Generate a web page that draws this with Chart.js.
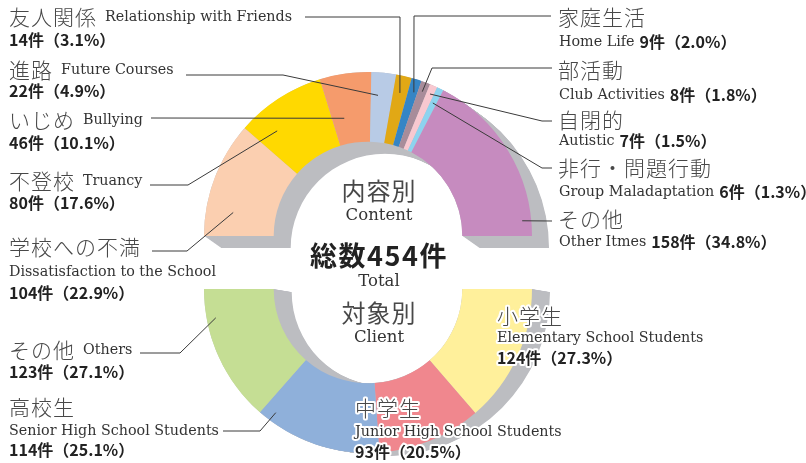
<!DOCTYPE html>
<html>
<head>
<meta charset="utf-8">
<script src="https://cdn.jsdelivr.net/npm/chart.js@4.4.0/dist/chart.umd.min.js"></script>
<style>
  html, body { margin: 0; padding: 0; background: #fff; }
  #wrap { position: relative; width: 806px; height: 463px; }
  #wrap canvas { position: absolute; left: 0; top: 0; }
</style>
</head>
<body>
<div id="wrap">
  <canvas id="contentChart" width="806" height="463"></canvas>
  <canvas id="clientChart" width="806" height="463"></canvas>
</div>
<script>
// 内容別 (top half, clockwise from the left)
var contentJa = ['学校への不満', '不登校', 'いじめ', '進路', '友人関係', '家庭生活', '部活動', '自閉的', '非行・問題行動', 'その他'];
var contentEn = ['Dissatisfaction to the School', 'Truancy', 'Bullying', 'Future Courses', 'Relationship with Friends', 'Home Life', 'Club Activities', 'Autistic', 'Group Maladaptation', 'Other Itmes'];
var contentValues = [104, 80, 46, 22, 14, 9, 8, 7, 6, 158];
var contentPct = [22.9, 17.6, 10.1, 4.9, 3.1, 2.0, 1.8, 1.5, 1.3, 34.8];
var contentColors = ['#fbcfb0', '#ffd900', '#f59b6c', '#b8cbe6', '#e1a815', '#3585c5', '#a88c9a', '#f8c8d0', '#8dd3ef', '#c68bbf'];

// 対象別 (bottom half, clockwise from the right)
var clientJa = ['小学生', '中学生', '高校生', 'その他'];
var clientEn = ['Elementary School Students', 'Junior High School Students', 'Senior High School Students', 'Others'];
var clientValues = [124, 93, 114, 123];
var clientPct = [27.3, 20.5, 25.1, 27.1];
var clientColors = ['#fff09b', '#f0878e', '#8fb0da', '#c5de94'];

var totalCount = 454;

var JA = "'Noto Sans CJK JP'";
var EN = "'DejaVu Serif'";
var JA_FONT = '300 21px ' + JA;
var EN_FONT = '14.3px ' + EN;
var NUM_FONT = 'bold 16px ' + JA;
var TXT = '#333';
var JA_COL = '#484848';

// label layout: text position, rows, leader line elbows, anchor inside the slice
var contentLayout = [
  { type: 'stack',  x: 9,   rows: [247, 272, 293], line: [[152, 251], [187, 251]], f: 0.24, rf: 0.61 },
  { type: 'inline', x: 9,   rows: [181, 203], line: [[150, 185], [188, 185]], f: 0.25, rf: 0.64 },
  { type: 'inline', x: 9,   rows: [120, 143], line: [[151, 118]], f: 0.31, rf: 0.37 },
  { type: 'inline', x: 9,   rows: [70, 91],   line: [[186, 75], [283, 75]], f: 0.33, rf: 0.67 },
  { type: 'inline', x: 9,   rows: [17, 40],   line: [[305, 17], [400, 17]], f: 0.48, rf: 0.75 },
  { type: 'right',  x: 558, rows: [17, 42],   line: [[551, 16], [414, 16]], f: 0.63, rf: 0.81 },
  { type: 'right',  x: 558, rows: [70, 95],   line: [[552, 68], [432, 68]], f: 0.5, rf: 0.86 },
  { type: 'right',  x: 558, rows: [120, 141], line: [[552, 121], [542, 121]], f: 0.5, rf: 0.87 },
  { type: 'right',  x: 558, rows: [168, 192], line: [[552, 168], [542, 168]], f: 0.42, rf: 0.77 },
  { type: 'right',  x: 558, rows: [219, 242], line: [[552, 221]], f: 0.91, rf: 0.87 }
];
var clientLayout = [
  { type: 'stack',  x: 497, rows: [316, 338, 358], outline: true },
  { type: 'stack',  x: 355, rows: [408, 432, 452], outline: true },
  { type: 'stack',  x: 9,   rows: [407, 431, 450], line: [[223, 431], [260, 431]], f: 0.9, rf: 0.86 },
  { type: 'inline', x: 9,   rows: [350, 372], line: [[140, 353], [180, 353]], f: 0.78, rf: 0.87 }
];

function makeShadow(shift) {
  return {
    id: 'shadow',
    beforeDatasetsDraw: function(chart) {
      var arcs = chart.getDatasetMeta(0).data;
      var a0 = arcs[0], a1 = arcs[arcs.length - 1];
      var ctx = chart.ctx;
      ctx.save();
      ctx.fillStyle = '#bcbdc1';
      for (var i = 0; i <= 24; i++) {
        var dx = shift[0] * i / 24, dy = shift[1] * i / 24;
        ctx.beginPath();
        ctx.arc(a0.x + dx, a0.y + dy, a0.outerRadius, a0.startAngle, a1.endAngle);
        ctx.arc(a0.x + dx, a0.y + dy, a0.innerRadius, a1.endAngle, a0.startAngle, true);
        ctx.closePath();
        ctx.fill();
      }
      ctx.restore();
    }
  };
}

function countText(v, p) {
  return v + '件（' + p.toFixed(1) + '%）';
}

function drawRow(ctx, x, y, parts, outline) {
  parts.forEach(function(p) {
    ctx.font = p.font;
    ctx.letterSpacing = p.ls || '0px';
    if (outline) {
      ctx.lineWidth = 4;
      ctx.lineJoin = 'round';
      ctx.strokeStyle = '#fff';
      ctx.strokeText(p.text, x, y);
    }
    ctx.fillStyle = p.color || TXT;
    ctx.fillText(p.text, x, y);
    x += ctx.measureText(p.text).width + (p.gap || 0);
  });
  ctx.letterSpacing = '0px';
}

function drawLabels(chart, ja, en, values, pct, layout) {
  var ctx = chart.ctx;
  var arcs = chart.getDatasetMeta(0).data;
  ctx.save();
  ctx.textBaseline = 'middle';
  ctx.textAlign = 'left';
  layout.forEach(function(l, i) {
    var cnt = countText(values[i], pct[i]);
    var jaPart = { text: ja[i], font: JA_FONT, color: JA_COL, ls: '1px' };
    if (l.type === 'inline') {
      jaPart.gap = 8;
      drawRow(ctx, l.x, l.rows[0], [jaPart, { text: en[i], font: EN_FONT }]);
      drawRow(ctx, l.x, l.rows[1], [{ text: cnt, font: NUM_FONT, color: '#222' }]);
    } else if (l.type === 'stack') {
      drawRow(ctx, l.x, l.rows[0], [jaPart], l.outline);
      drawRow(ctx, l.x, l.rows[1], [{ text: en[i], font: EN_FONT }], l.outline);
      drawRow(ctx, l.x, l.rows[2], [{ text: cnt, font: NUM_FONT, color: '#222' }], l.outline);
    } else {
      drawRow(ctx, l.x, l.rows[0], [jaPart]);
      drawRow(ctx, l.x + 1, l.rows[1], [{ text: en[i], font: EN_FONT, gap: 5 }, { text: cnt, font: NUM_FONT, color: '#222' }]);
    }
    if (l.line) {
      var a = arcs[i];
      var ang = a.startAngle + l.f * (a.endAngle - a.startAngle);
      var r = a.innerRadius + l.rf * (a.outerRadius - a.innerRadius);
      var pts = l.line.concat([[a.x + r * Math.cos(ang), a.y + r * Math.sin(ang)]]);
      ctx.beginPath();
      ctx.moveTo(pts[0][0], pts[0][1]);
      for (var k = 1; k < pts.length; k++) ctx.lineTo(pts[k][0], pts[k][1]);
      ctx.lineWidth = 1;
      ctx.strokeStyle = '#3a3a3a';
      ctx.stroke();
    }
  });
  ctx.restore();
}

function baseOptions(rotation, padding) {
  return {
    responsive: false,
    animation: false,
    devicePixelRatio: 1,
    events: [],
    rotation: rotation,
    circumference: 180,
    cutout: '57.5%',
    layout: { padding: padding },
    elements: { arc: { borderWidth: 0 } },
    plugins: { legend: { display: false }, tooltip: { enabled: false } }
  };
}

var contentChart = new Chart(document.getElementById('contentChart'), {
  type: 'doughnut',
  data: {
    labels: contentJa,
    datasets: [{ data: contentValues, backgroundColor: contentColors, borderWidth: 0 }]
  },
  options: baseOptions(-90, { left: 204, right: 274, top: 72, bottom: 227 }),
  plugins: [makeShadow([17, 12]), {
    id: 'contentLabels',
    afterDraw: function(chart) {
      drawLabels(chart, contentJa, contentEn, contentValues, contentPct, contentLayout);
    }
  }]
});

var clientChart = new Chart(document.getElementById('clientChart'), {
  type: 'doughnut',
  data: {
    labels: clientJa,
    datasets: [{ data: clientValues, backgroundColor: clientColors, borderWidth: 0 }]
  },
  options: baseOptions(90, { left: 204, right: 274, top: 289, bottom: 10 }),
  plugins: [makeShadow([18, 3]), {
    id: 'clientLabels',
    afterDraw: function(chart) {
      drawLabels(chart, clientJa, clientEn, clientValues, clientPct, clientLayout);
      // center texts
      var ctx = chart.ctx;
      var cx = 379;
      ctx.save();
      ctx.textAlign = 'center';
      ctx.textBaseline = 'middle';
      ctx.fillStyle = JA_COL;
      ctx.letterSpacing = '1px';
      ctx.font = '24px ' + JA;
      ctx.fillText('内容別', cx, 191);
      ctx.fillText('対象別', cx, 313);
      ctx.letterSpacing = '0px';
      ctx.fillStyle = TXT;
      ctx.font = '16.5px ' + EN;
      ctx.fillText('Content', cx, 216);
      ctx.fillText('Total', cx, 282);
      ctx.fillText('Client', cx, 338);
      ctx.fillStyle = '#222';
      ctx.letterSpacing = '1.5px';
      ctx.font = 'bold 27px ' + JA;
      ctx.fillText('総数' + totalCount + '件', cx, 256);
      ctx.restore();
    }
  }]
});
</script>
</body>
</html>
